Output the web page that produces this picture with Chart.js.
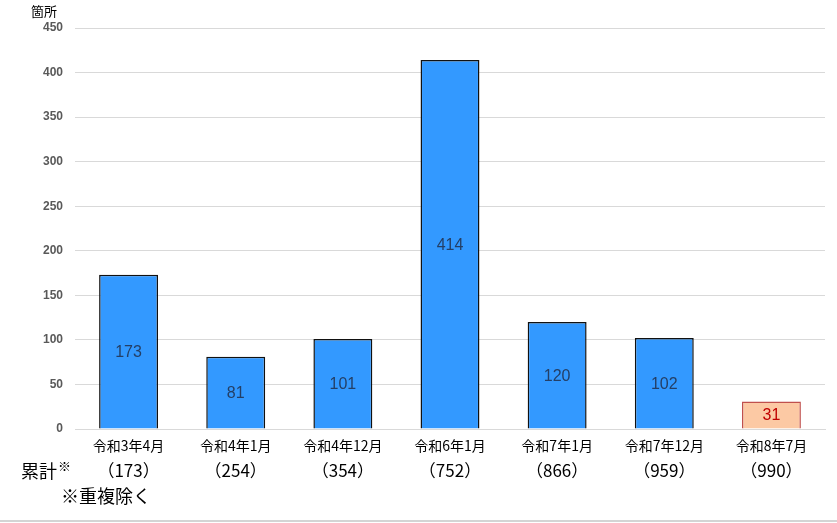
<!DOCTYPE html>
<html><head><meta charset="utf-8">
<script src="https://cdn.jsdelivr.net/npm/chart.js@4"></script>
<style>
html,body{margin:0;padding:0;background:#fff;}
#wrap{position:relative;width:837px;height:523px;}
#bottomline{position:absolute;left:0;top:520px;width:837px;height:2px;background:#d4d4d4;}
</style></head>
<body>
<div id="wrap"><canvas id="c" width="837" height="523"></canvas><div id="bottomline"></div></div>
<script>
const categories = ['令和3年4月','令和4年1月','令和4年12月','令和6年1月','令和7年1月','令和7年12月','令和8年7月'];
const values = [173, 81, 101, 414, 120, 102, 31];
const cumulative = [173, 254, 354, 752, 866, 959, 990];
const yTicks = [0, 50, 100, 150, 200, 250, 300, 350, 400, 450];
const unitLabel = '箇所';
const cumLabel = '累計';
const noteLabel = '※重複除く';

const JP = '"Noto Sans CJK JP", "Liberation Sans", sans-serif';
const barColors = values.map((v,i)=> i===values.length-1 ? '#fcc9a4' : '#3399ff');
const borderColors = values.map((v,i)=> i===values.length-1 ? '#c0504d' : '#111111');
const labelColors = values.map((v,i)=> i===values.length-1 ? '#c00000' : '#243f66');

const overlay = {
  id:'overlay',
  afterDatasetsDraw(chart){
    const ctx = chart.ctx;
    const meta = chart.getDatasetMeta(0);
    ctx.save();
    ctx.textAlign='center'; ctx.textBaseline='middle';
    ctx.font = '16px "Liberation Sans", Arial, sans-serif';
    meta.data.forEach((bar,i)=>{
      ctx.fillStyle = labelColors[i];
      const y = (bar.y + bar.base)/2;
      ctx.fillText(String(values[i]), bar.x, y+1);
    });
    ctx.restore();
  },
  afterDraw(chart){
    const ctx = chart.ctx;
    const xs = chart.scales.x;
    ctx.save();
    ctx.fillStyle='#000';
    ctx.textBaseline='middle';
    ctx.textAlign='center';
    ctx.font = '17px ' + JP;
    cumulative.forEach((c,i)=>{
      ctx.fillText('（'+c+'）', xs.getPixelForValue(i), 471);
    });
    ctx.textAlign='left';
    ctx.font = '18px ' + JP;
    ctx.fillText(cumLabel, 21, 471);
    ctx.font = '13px ' + JP;
    ctx.fillText('※', 58, 466);
    ctx.font = '18px ' + JP;
    ctx.fillText(noteLabel, 61, 496);
    ctx.font = '13px ' + JP;
    ctx.fillText(unitLabel, 31, 11);
    ctx.restore();
  }
};

new Chart(document.getElementById('c'), {
  type:'bar',
  data:{ labels: categories, datasets:[{ data: values, backgroundColor: barColors, borderColor: borderColors, borderWidth: 1.5, borderSkipped: 'bottom', categoryPercentage: 1, barPercentage: 0.55 }]},
  options:{
    responsive:false, animation:false,
    layout:{ padding:{ left:0, right:12, top:28, bottom:0 }},
    plugins:{ legend:{display:false}, tooltip:{enabled:false} },
    scales:{
      x:{
        grid:{ display:false, drawTicks:false },
        border:{ display:true, color:'#d9d9d9' },
        ticks:{ color:'#000', font:{ family: JP, size:14 }, padding:8, maxRotation:0, autoSkip:false },
        afterFit(s){ s.height = 94; }
      },
      y:{
        min:0, max:450,
        afterBuildTicks(s){ s.ticks = yTicks.map(v=>({value:v})); },
        grid:{ color:'#d9d9d9', drawTicks:false },
        border:{ display:false },
        ticks:{ color:'#595959', font:{ family:'"Liberation Sans", Arial, sans-serif', size:12, weight:'bold' }, padding:12 },
        afterFit(s){ s.width = 75; }
      }
    }
  },
  plugins:[overlay]
});
</script>
</body></html>
